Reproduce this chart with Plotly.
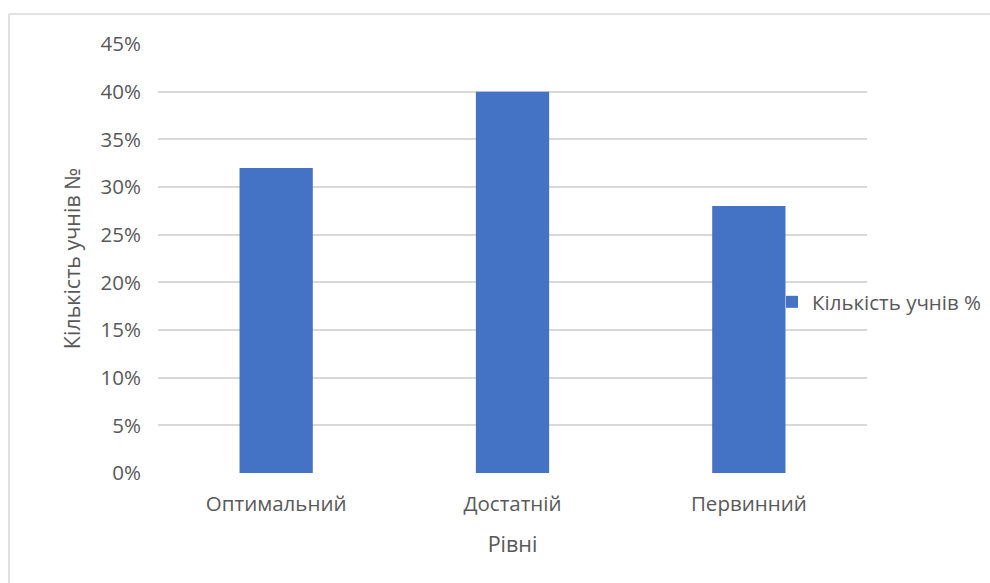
import plotly.graph_objects as go

# Розподіл учнів за рівнями
levels = ["Оптимальний", "Достатній", "Первинний"]
shares = [0.32, 0.40, 0.28]
series_name = "Кількість учнів %"
y_ticks = [0, 0.05, 0.10, 0.15, 0.20, 0.25, 0.30, 0.35, 0.40, 0.45]
y_tick_text = ["0%", "5%", "10%", "15%", "20%", "25%", "30%", "35%", "40%", "45%"]

W, H = 990, 583
L, R, T, B = 158, 123, 44, 110
pw, ph = W - L - R, H - T - B

def px_x(x):
    return (x - L) / pw

def px_y(y):
    return (H - B - y) / ph

text_color = "#595959"
font_family = "Open Sans, Noto Sans, sans-serif"
tick_size = 20.5
title_size = 21.5

fig = go.Figure()
fig.add_trace(go.Bar(
    x=levels,
    y=shares,
    name=series_name,
    marker=dict(color="#4472C4", line=dict(width=0)),
    showlegend=True,
))

fig.update_layout(
    width=W,
    height=H,
    margin=dict(l=L, r=R, t=T, b=B, autoexpand=False),
    paper_bgcolor="white",
    plot_bgcolor="white",
    bargap=0.69,
    font=dict(family=font_family, size=tick_size, color=text_color),
    showlegend=True,
    legend=dict(
        x=px_x(772), y=px_y(302), xanchor="left", yanchor="middle",
        font=dict(size=tick_size, color=text_color),
        bgcolor="rgba(0,0,0,0)",
        itemwidth=30,
    ),
    xaxis=dict(
        showgrid=False, showline=False, zeroline=False,
        tickfont=dict(size=tick_size, color=text_color),
        ticks="", ticklabelstandoff=16,
        title=dict(text="Рівні", font=dict(size=title_size, color=text_color), standoff=21),
    ),
    yaxis=dict(
        range=[0, 0.45],
        tickvals=y_ticks, ticktext=y_tick_text,
        showgrid=True, gridcolor="#d9d9d9", gridwidth=1.5,
        showline=False, zeroline=False,
        tickfont=dict(size=tick_size, color=text_color),
        ticks="", ticklabelstandoff=16,
        title=dict(text="Кількість учнів №", font=dict(size=title_size, color=text_color), standoff=14),
    ),
    shapes=[
        dict(type="line", xref="paper", yref="paper",
             x0=px_x(9), x1=px_x(W + 5), y0=px_y(14), y1=px_y(14),
             line=dict(color="#d9d9d9", width=1.5)),
        dict(type="line", xref="paper", yref="paper",
             x0=px_x(9), x1=px_x(9), y0=px_y(14), y1=px_y(H + 5),
             line=dict(color="#d9d9d9", width=1.5)),
    ],
)

fig.write_html("out.html")
